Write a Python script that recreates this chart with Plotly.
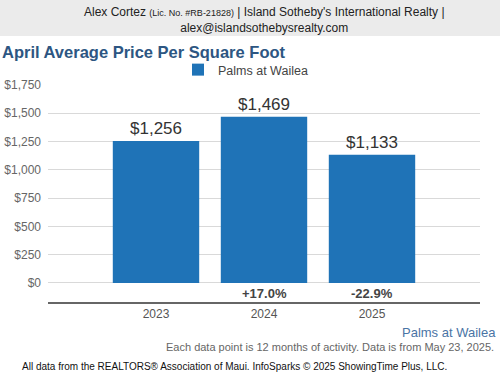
import plotly.graph_objects as go

years = ["2023", "2024", "2025"]
values = [1256, 1469, 1133]
pct_labels = ["", "+17.0%", "-22.9%"]
series_name = "Palms at Wailea"
ytick_vals = [0, 250, 500, 750, 1000, 1250, 1500, 1750]
ytick_text = ["$0", "$250", "$500", "$750", "$1,000", "$1,250", "$1,500", "$1,750"]

FONT = "Liberation Sans, Arial, sans-serif"

fig = go.Figure()
fig.add_trace(go.Bar(
    x=[0, 1, 2], y=values, name=series_name,
    marker=dict(color="#1f73b7", line=dict(width=0)),
    width=0.8,
    text=["$" + f"{v:,}" for v in values],
    textposition="outside",
    textfont=dict(size=17, color="#333333", family=FONT),
    cliponaxis=False,
    showlegend=True,
))

annotations = []
for i, p in enumerate(pct_labels):
    if p:
        annotations.append(dict(x=i, y=-97, xref="x", yref="y", text="<b>" + p + "</b>",
                                showarrow=False, font=dict(size=13, color="#444444", family=FONT)))

# header
annotations.append(dict(xref="paper", yref="paper", x=0.5, y=1, xanchor="center", yanchor="bottom",
                        text="Alex Cortez <span style='font-size:9px'>(Lic. No. #RB-21828)</span> | Island Sotheby's International Realty |<br>alex@islandsothebysrealty.com",
                        showarrow=False, font=dict(size=12, color="#222222", family=FONT), yshift=48, align="center"))
annotations.append(dict(xref="paper", yref="paper", x=-0.111, y=1, xanchor="left", yanchor="bottom",
                        text="<b>April Average Price Per Square Foot</b>", showarrow=False, yshift=22,
                        font=dict(size=16.5, color="#2d5682", family=FONT)))
annotations.append(dict(xref="paper", yref="paper", x=1.042, y=0, xanchor="right", yanchor="top",
                        text=series_name, showarrow=False, yshift=-21,
                        font=dict(size=13, color="#4a74a5", family=FONT)))
annotations.append(dict(xref="paper", yref="paper", x=1.037, y=0, xanchor="right", yanchor="top",
                        text="Each data point is 12 months of activity. Data is from May 23, 2025.",
                        showarrow=False, yshift=-37, font=dict(size=11, color="#666666", family=FONT)))
annotations.append(dict(xref="paper", yref="paper", x=-0.065, y=0, xanchor="left", yanchor="top",
                        text="All data from the REALTORS® Association of Maui. InfoSparks © 2025 ShowingTime Plus, LLC.",
                        showarrow=False, yshift=-57, font=dict(size=10, color="#111111", family=FONT)))

ph = 375 - 85 - 73
fig.update_layout(
    width=500, height=375,
    margin=dict(l=48, r=20, t=85, b=73, autoexpand=False),
    paper_bgcolor="white", plot_bgcolor="white",
    font=dict(family=FONT),
    showlegend=True,
    legend=dict(orientation="h", x=(218 - 40 - 48) / 432, xanchor="left", y=1.0, yanchor="bottom",
                font=dict(size=12.5, color="#444444", family=FONT),
                bgcolor="rgba(0,0,0,0)"),
    xaxis=dict(range=[-1, 3], tickvals=[0, 1, 2], ticktext=years, showgrid=False,
               showline=True, linecolor="#666666", linewidth=1.5,
               tickfont=dict(size=12, color="#555555", family=FONT), ticks="", fixedrange=True),
    yaxis=dict(range=[-168, 1750], tickvals=ytick_vals, ticktext=ytick_text, showgrid=True,
               gridcolor="#d9d9d9", gridwidth=1, zeroline=False, fixedrange=True,
               tickfont=dict(size=12, color="#666666", family=FONT), ticklabelstandoff=6),
    annotations=annotations,
    shapes=[dict(type="rect", xref="paper", yref="paper",
                 x0=-48 / 432, x1=1 + 20 / 432,
                 y0=1 + (85 - 36) / ph, y1=1 + 85 / ph,
                 layer="below", line=dict(width=0), fillcolor="#ebebeb")],
)

fig.write_html("out.html", config={"displayModeBar": False},
               post_script="document.body.style.margin='0';document.body.style.overflow='hidden';")
